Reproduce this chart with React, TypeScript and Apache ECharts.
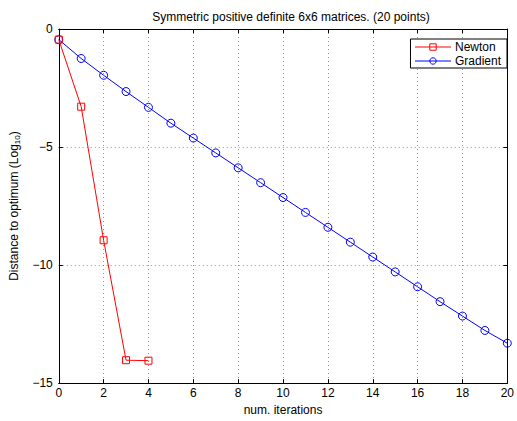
import React, { useEffect, useRef } from "react";
import * as echarts from "echarts";

const iterations = Array.from({ length: 21 }, (_, i) => i);
const newtonX = [0, 1, 2, 3, 4];
const newtonY = [-0.45, -3.29, -8.95, -14.03, -14.05];
const gradientY = [
  -0.45, -1.25, -1.96, -2.65, -3.32, -3.99, -4.62, -5.25, -5.88, -6.51, -7.14,
  -7.77, -8.4, -9.03, -9.66, -10.29, -10.92, -11.55, -12.16, -12.77, -13.31,
];
const xTicks = [0, 20, 2];
const yTicks = [-15, 0, 5];

const FONT = "Liberation Sans, Arial, Helvetica, sans-serif";

export default function App() {
  const ref = useRef<HTMLDivElement>(null);
  useEffect(() => {
    document.body.style.margin = "0";
    const chart = echarts.init(ref.current!, undefined, { renderer: "svg" });
    const fmtY = (v: number) => (v < 0 ? "\u2212" + -v : String(v));
    const splitLine = { show: true, lineStyle: { color: "#666", type: [1, 3] as any, width: 0.7 } };
    chart.setOption({
      animation: false,
      backgroundColor: "#fff",
      textStyle: { fontFamily: FONT },
      title: {
        text: "Symmetric positive definite 6x6 matrices. (20 points)",
        left: 286,
        textAlign: "center",
        top: 6,
        textStyle: { fontSize: 12, fontWeight: "normal", color: "#000", fontFamily: FONT },
      },
      legend: {
        right: 10,
        top: 39,
        orient: "vertical",
        itemWidth: 36,
        itemHeight: 8,
        itemGap: 2,
        padding: [2, 6, 1, 4],
        borderColor: "#000",
        borderWidth: 1,
        backgroundColor: "#fff",
        lineStyle: { width: 1 },
        itemStyle: { borderWidth: 1 },
        textStyle: { fontSize: 12, color: "#000", fontFamily: FONT, padding: [0, 0, 0, -1] },
        data: ["Newton", "Gradient"],
      },
      grid: { left: 58.5, right: 5, top: 29, bottom: 35, containLabel: false },
      xAxis: [
        {
          type: "value",
          min: xTicks[0],
          max: xTicks[1],
          interval: xTicks[2],
          name: "num. iterations",
          nameLocation: "middle",
          nameGap: 17,
          nameTextStyle: { fontSize: 12, color: "#000", fontFamily: FONT },
          axisLine: { show: true, onZero: false, lineStyle: { color: "#000", width: 1 } },
          axisTick: { show: true, inside: true, length: 4, lineStyle: { color: "#000" } },
          axisLabel: { fontSize: 12, color: "#000", margin: 4, fontFamily: FONT },
          splitLine,
        },
        {
          type: "value",
          position: "top",
          min: xTicks[0],
          max: xTicks[1],
          interval: xTicks[2],
          axisLine: { show: true, onZero: false, lineStyle: { color: "#000", width: 1 } },
          axisTick: { show: true, inside: true, length: 4, lineStyle: { color: "#000" } },
          axisLabel: { show: false },
          splitLine: { show: false },
        },
      ],
      yAxis: [
        {
          type: "value",
          min: yTicks[0],
          max: yTicks[1],
          interval: yTicks[2],
          name: "Distance to optimum (Log{sub|10})",
          nameLocation: "middle",
          nameGap: 31,
          nameRotate: 90,
          nameTextStyle: {
            fontSize: 12,
            color: "#000",
            fontFamily: FONT,
            rich: {
              sub: { fontSize: 8, verticalAlign: "bottom", padding: [7, 0, 0, 0], fontFamily: FONT, color: "#000" },
            },
          },
          axisLine: { show: true, onZero: false, lineStyle: { color: "#000", width: 1 } },
          axisTick: { show: true, inside: true, length: 4, lineStyle: { color: "#000" } },
          axisLabel: { fontSize: 12, color: "#000", margin: 6, fontFamily: FONT, formatter: fmtY },
          splitLine,
        },
        {
          type: "value",
          position: "right",
          min: yTicks[0],
          max: yTicks[1],
          interval: yTicks[2],
          axisLine: { show: true, onZero: false, lineStyle: { color: "#000", width: 1 } },
          axisTick: { show: true, inside: true, length: 4, lineStyle: { color: "#000" } },
          axisLabel: { show: false },
          splitLine: { show: false },
        },
      ],
      series: [
        {
          name: "Gradient",
          type: "line",
          data: iterations.map((x, i) => [x, gradientY[i]]),
          symbol: "circle",
          symbolSize: 8,
          showAllSymbol: true,
          lineStyle: { color: "#0000ff", width: 1 },
          itemStyle: { color: "rgba(255,255,255,0)", borderColor: "#0000ff", borderWidth: 1 },
          z: 2,
        },
        {
          name: "Newton",
          type: "line",
          data: newtonX.map((x, i) => [x, newtonY[i]]),
          symbol: "rect",
          symbolSize: 7,
          lineStyle: { color: "#ff0000", width: 1 },
          itemStyle: { color: "rgba(255,255,255,0)", borderColor: "#ff0000", borderWidth: 1 },
          z: 3,
        },
      ],
    });
    return () => chart.dispose();
  }, []);
  return <div ref={ref} style={{ position: "absolute", left: 0, top: 0, width: 517, height: 421 }} />;
}
